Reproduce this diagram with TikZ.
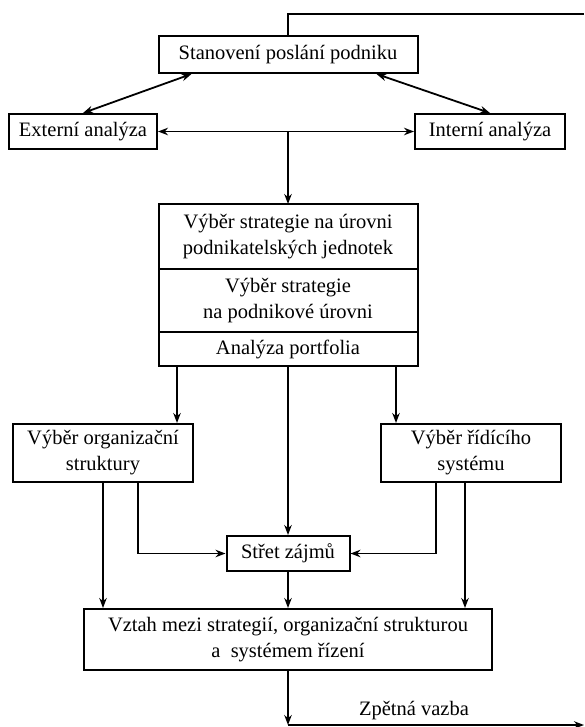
\documentclass[tikz,border=0pt]{standalone}
\usepackage{fontspec}
\setmainfont{Liberation Serif}
\usetikzlibrary{shapes.geometric, arrows, arrows.meta, positioning}

\begin{document}
\begin{tikzpicture}[x=1pt, y=1pt, font=\fontsize{20.5}{26}\selectfont]
        \tikzstyle{process} = [rectangle, draw=black, line width=2pt, text centered, align=center, inner sep=2pt];
        \tikzstyle{stackbox} = [process, minimum width=259pt, outer sep=0pt];
        \tikzstyle{arrow} = [line width=1.8pt,->,>={Stealth[length=10pt,width=7.5pt]}];
        \tikzstyle{twoway} = [line width=1.8pt,<->,>={Stealth[length=10pt,width=7.5pt]}];
        \tikzstyle{line} = [line width=1.8pt];

        \useasboundingbox (0,0) rectangle (584,-727);

        \node(mission) [process, minimum width=259pt, minimum height=37pt] at (288,-54.5) {Stanovení poslání podniku};
        \node(external) [process, minimum width=148pt, minimum height=35pt] at (83,-131.5) {Externí analýza};
        \node(internal) [process, minimum width=150pt, minimum height=35pt] at (490,-131.5) {Interní analýza};

        \node(business) [stackbox, minimum height=65pt] at (288,-236.5) {Výběr strategie na úrovni\\podnikatelských jednotek};
        \node(corporate) [stackbox, minimum height=63pt, below=0pt of business] {Výběr strategie\\na podnikové úrovni};
        \node(portfolio) [stackbox, minimum height=34pt, below=0pt of corporate] {Analýza portfolia};

        \node(orgstruct) [process, minimum width=180pt, minimum height=58pt] at (103,-453) {Výběr organizační\\struktury};
        \node(control) [process, minimum width=180pt, minimum height=58pt] at (471,-453) {Výběr řídícího\\systému};
        \node(conflict) [process, minimum width=123pt, minimum height=35pt] at (288,-553.5) {Střet zájmů};
        \node(relation) [process, minimum width=408pt, minimum height=61pt] at (288,-639.5) {Vztah mezi strategií, organizační strukturou\\a~ systémem řízení};
        \node(feedback) at (414,-711) {Zpětná vazba};

        \coordinate(topright) at (584,-14);
        \coordinate(fbcorner) at (288,-725);
        \coordinate(fbend) at (584,-725);

        \draw[line] (mission.north) |- (topright);
        \draw[twoway] ([xshift=34pt]mission.south west) -- (external.north);
        \draw[twoway] ([xshift=-42pt]mission.south east) -- (internal.north);
        \draw[twoway] (external.east) -- (internal.west);
        \draw[arrow] (mission.south |- external.east) -- (business.north);

        \draw[arrow] ([xshift=74pt]orgstruct.north |- portfolio.south) -- ([xshift=74pt]orgstruct.north);
        \draw[arrow] ([xshift=-75pt]control.north |- portfolio.south) -- ([xshift=-75pt]control.north);
        \draw[arrow] (portfolio.south) -- (portfolio.south |- conflict.north);

        \draw[arrow] ([xshift=35pt]orgstruct.south) |- (conflict.west);
        \draw[arrow] ([xshift=-35pt]control.south) |- (conflict.east);
        \draw[arrow] (orgstruct.south) -- (orgstruct.south |- relation.north);
        \draw[arrow] ([xshift=-6pt]control.south) -- ([xshift=-6pt]control.south |- relation.north);
        \draw[arrow] (conflict.south) -- (conflict.south |- relation.north);

        \draw[arrow] (relation.south) -- (fbcorner);
        \draw[arrow] (fbcorner) -- (fbend);

    \end{tikzpicture}
\end{document}
